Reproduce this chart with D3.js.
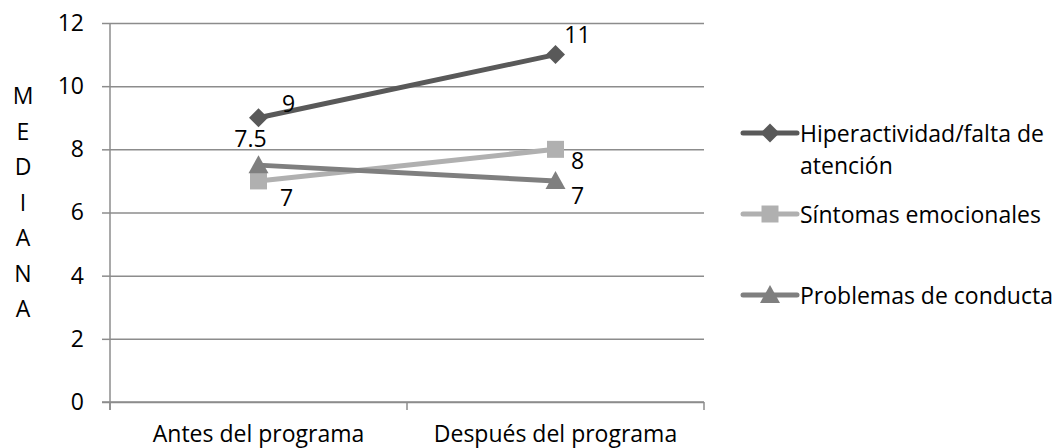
<!DOCTYPE html>
<html>
<head>
<meta charset="utf-8">
<script src="https://cdn.jsdelivr.net/npm/d3@7"></script>
<style>
  html, body { margin: 0; padding: 0; background: #fff; }
  svg { display: block; }
  text { font-family: "Open Sans", sans-serif; fill: #000; }
</style>
</head>
<body>
<svg id="chart" width="1058" height="448"></svg>
<script>
// ---- data ----
const categories = ["Antes del programa", "Después del programa"];
const seriesNames = ["Hiperactividad/falta de atención", "Síntomas emocionales", "Problemas de conducta"];
const hiperactividad = [9, 11];
const sintomas = [7, 8];
const problemas = [7.5, 7];
const yTicks = [0, 2, 4, 6, 8, 10, 12];
const yAxisTitle = "MEDIANA";

(function () {
// ---- drawing config ----
const seriesValues = [hiperactividad, sintomas, problemas];
const colors = ["#595959", "#b0b0b0", "#7f7f7f"];
const markers = ["diamond", "square", "triangle"];
const labelOffsets = [
  [[30, -15], [22, -21]],
  [[28, 16], [22, 11]],
  [[-8, -27], [22, 14]]
];

const svg = d3.select("#chart");
const mLeft = 110, mRight = 704, mTop = 23, mBottom = 402;
const fontSize = 23;

const x = d3.scaleBand().domain(categories).range([mLeft, mRight]);
const y = d3.scaleLinear().domain([0, 12]).range([mBottom, mTop]);
const cx = c => x(c) + x.bandwidth() / 2;

const gridColor = "#8c8c8c";

// gridlines
const gy = svg.append("g").attr("transform", `translate(${mLeft},0)`)
  .call(d3.axisLeft(y).tickValues(yTicks).tickSizeInner(-(mRight - mLeft)).tickSizeOuter(0).tickFormat(""));
gy.select(".domain").remove();
gy.selectAll(".tick line").attr("stroke", gridColor).attr("stroke-width", 1.5);

// y axis ticks + labels
const gyt = svg.append("g").attr("transform", `translate(${mLeft},0)`)
  .call(d3.axisLeft(y).tickValues(yTicks).tickSize(8).tickPadding(18).tickFormat(d3.format("d")));
gyt.select(".domain").attr("stroke", gridColor).attr("stroke-width", 1.5)
  .attr("d", `M0,${mTop}V${mBottom + 8}`);
gyt.selectAll(".tick line").attr("stroke", gridColor).attr("stroke-width", 1.5);
gyt.selectAll(".tick text").attr("font-size", fontSize).attr("font-family", "Open Sans").attr("fill", "#000");

// x axis
const gx = svg.append("g").attr("transform", `translate(0,${mBottom})`)
  .call(d3.axisBottom(x).tickSize(0).tickPadding(0));
gx.select(".domain").attr("stroke", gridColor).attr("stroke-width", 1.5)
  .attr("d", `M${mLeft - 8},0H${mRight}`);
gx.selectAll(".tick text").remove();
const bounds = [mLeft, mLeft + x.bandwidth(), mRight];
gx.selectAll(".bt").data(bounds).enter().append("line")
  .attr("x1", d => d).attr("x2", d => d).attr("y1", 0).attr("y2", 8)
  .attr("stroke", gridColor).attr("stroke-width", 1.5);
gx.selectAll(".cl").data(categories).enter().append("text")
  .attr("x", d => cx(d)).attr("y", 40)
  .attr("text-anchor", "middle").attr("font-size", fontSize).text(d => d);

// y axis title (stacked letters)
svg.append("g").selectAll("text").data(yAxisTitle.split("")).enter().append("text")
  .attr("x", 23).attr("y", (d, i) => 95 + i * 35.5)
  .attr("text-anchor", "middle").attr("dominant-baseline", "central")
  .attr("font-size", fontSize).text(d => d);

function markerPath(type) {
  if (type === "diamond") return "M0,-9.5L9.5,0L0,9.5L-9.5,0Z";
  if (type === "square") return "M-8.5,-8.5H8.5V8.5H-8.5Z";
  return "M0,-10L10,8H-10Z";
}

const line = d3.line().x((d, i) => cx(categories[i])).y(d => y(d));

seriesValues.forEach((vals, s) => {
  const g = svg.append("g");
  g.append("path").datum(vals).attr("d", line)
    .attr("fill", "none").attr("stroke", colors[s]).attr("stroke-width", 5)
    .attr("stroke-linecap", "round");
  g.selectAll("path.m").data(vals).enter().append("path").attr("class", "m")
    .attr("d", markerPath(markers[s]))
    .attr("transform", (d, i) => `translate(${cx(categories[i])},${y(d)})`)
    .attr("fill", colors[s]);
});

// data labels
seriesValues.forEach((vals, s) => {
  svg.append("g").selectAll("text").data(vals).enter().append("text")
    .attr("x", (d, i) => cx(categories[i]) + labelOffsets[s][i][0])
    .attr("y", (d, i) => y(d) + labelOffsets[s][i][1])
    .attr("text-anchor", "middle").attr("dominant-baseline", "central")
    .attr("font-size", fontSize).text(d => d);
});

// legend
const legendRows = [133, 214, 295];
const lg = svg.append("g");
seriesNames.forEach((name, s) => {
  const yy = legendRows[s];
  lg.append("line").attr("x1", 743).attr("x2", 797).attr("y1", yy).attr("y2", yy)
    .attr("stroke", colors[s]).attr("stroke-width", 5).attr("stroke-linecap", "round");
  lg.append("path").attr("d", markerPath(markers[s]))
    .attr("transform", `translate(770,${yy})`).attr("fill", colors[s]);
  const t = lg.append("text").attr("x", 800).attr("y", yy)
    .attr("dominant-baseline", "central").attr("font-size", fontSize);
  const words = name.split(" ");
  let lineWords = [];
  const lines = [];
  const maxW = 1058 - 800;
  const probe = lg.append("text").attr("font-size", fontSize);
  words.forEach(w => {
    const test = lineWords.concat([w]).join(" ");
    probe.text(test);
    if (probe.node().getComputedTextLength() > maxW && lineWords.length) {
      lines.push(lineWords.join(" "));
      lineWords = [w];
    } else lineWords.push(w);
  });
  lines.push(lineWords.join(" "));
  probe.remove();
  lines.forEach((ln, i) => {
    t.append("tspan").attr("x", 800).attr("dy", i === 0 ? 0 : 32).text(ln);
  });
});
})();
</script>
</body>
</html>
